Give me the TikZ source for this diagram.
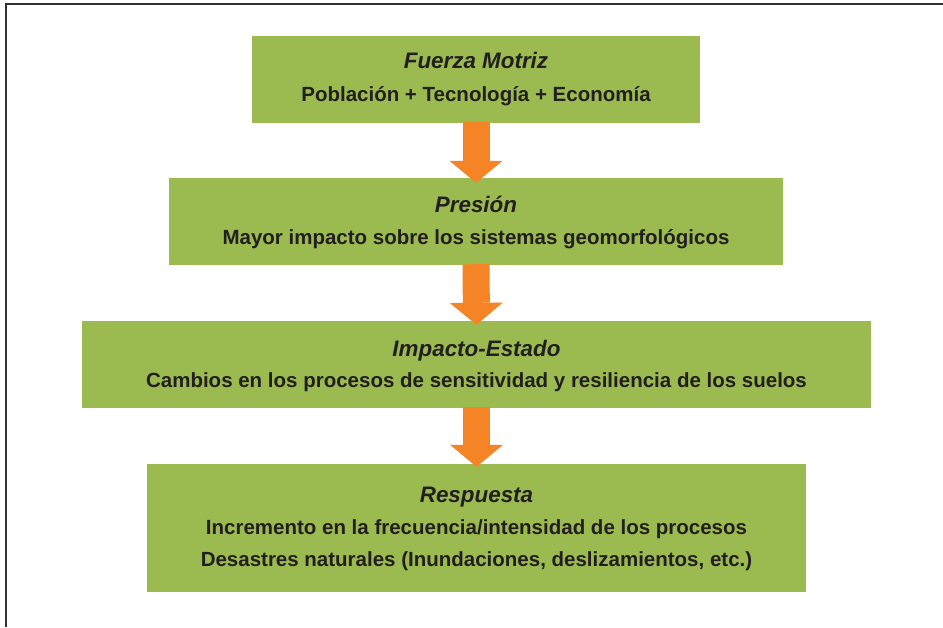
\documentclass[tikz,border=0pt]{standalone}
\usepackage{fontspec}
\setmainfont{Liberation Sans}
\usetikzlibrary{arrows.meta}
\definecolor{boxgreen}{RGB}{155,186,79}
\definecolor{arroworange}{RGB}{245,132,38}
\definecolor{txt}{RGB}{35,31,32}
\definecolor{framec}{RGB}{50,50,50}
\tikzset{
  box/.style={rectangle, fill=boxgreen, draw=none, inner sep=0pt},
  ttl/.style={anchor=base, inner sep=0pt, text=txt, font=\fontsize{22.4}{26}\selectfont\bfseries\itshape},
  bdy/.style={anchor=base, inner sep=0pt, text=txt, font=\fontsize{20.5}{24}\selectfont\bfseries},
  flow/.style={draw=arroworange, line width=27pt,
    -{Triangle[width=53pt,length=22pt,line width=0pt]}, arroworange}
}
\begin{document}
\begin{tikzpicture}[x=1pt,y=-1pt]
\useasboundingbox (0,0) rectangle (943,627);
\fill[white] (0,0) rectangle (943,627);
\draw[framec, line width=2pt] (5.5,627) -- (5.5,3.5) -- (943,3.5);

\node[box, minimum width=448pt, minimum height=87pt] (b1) at (476,79.5) {};
\node[box, minimum width=614pt, minimum height=87pt] (b2) at (476,221.5) {};
\node[box, minimum width=789pt, minimum height=87pt] (b3) at (476.5,364.5) {};
\node[box, minimum width=659pt, minimum height=128pt] (b4) at (476.5,528) {};

\draw[flow] ([yshift=1pt]b1.south) -- ([yshift=-5pt]b2.north);
\draw[flow] ([yshift=1pt]b2.south) -- ([yshift=-4pt]b3.north);
\draw[flow] ([yshift=1pt]b3.south) -- ([yshift=-3pt]b4.north);

\node[ttl] (t1) at (476,68.3) {Fuerza Motriz};
\node[bdy] (l1) at (476,101.7) {Población + Tecnología + Economía};

\node[ttl] (t2) at (476,212.7) {Presión};
\node[bdy] (l2) at (476,244.3) {Mayor impacto sobre los sistemas geomorfológicos};

\node[ttl] (t3) at (476.5,356.7) {Impacto-Estado};
\node[bdy] (l3) at (476.5,387.7) {Cambios en los procesos de sensitividad y resiliencia de los suelos};

\node[ttl] (t4) at (476.5,502.3) {Respuesta};
\node[bdy] (l4a) at (476.5,534.3) {Incremento en la frecuencia/intensidad de los procesos};
\node[bdy] (l4b) at (476.5,566) {Desastres naturales (Inundaciones, deslizamientos, etc.)};
\end{tikzpicture}
\end{document}
